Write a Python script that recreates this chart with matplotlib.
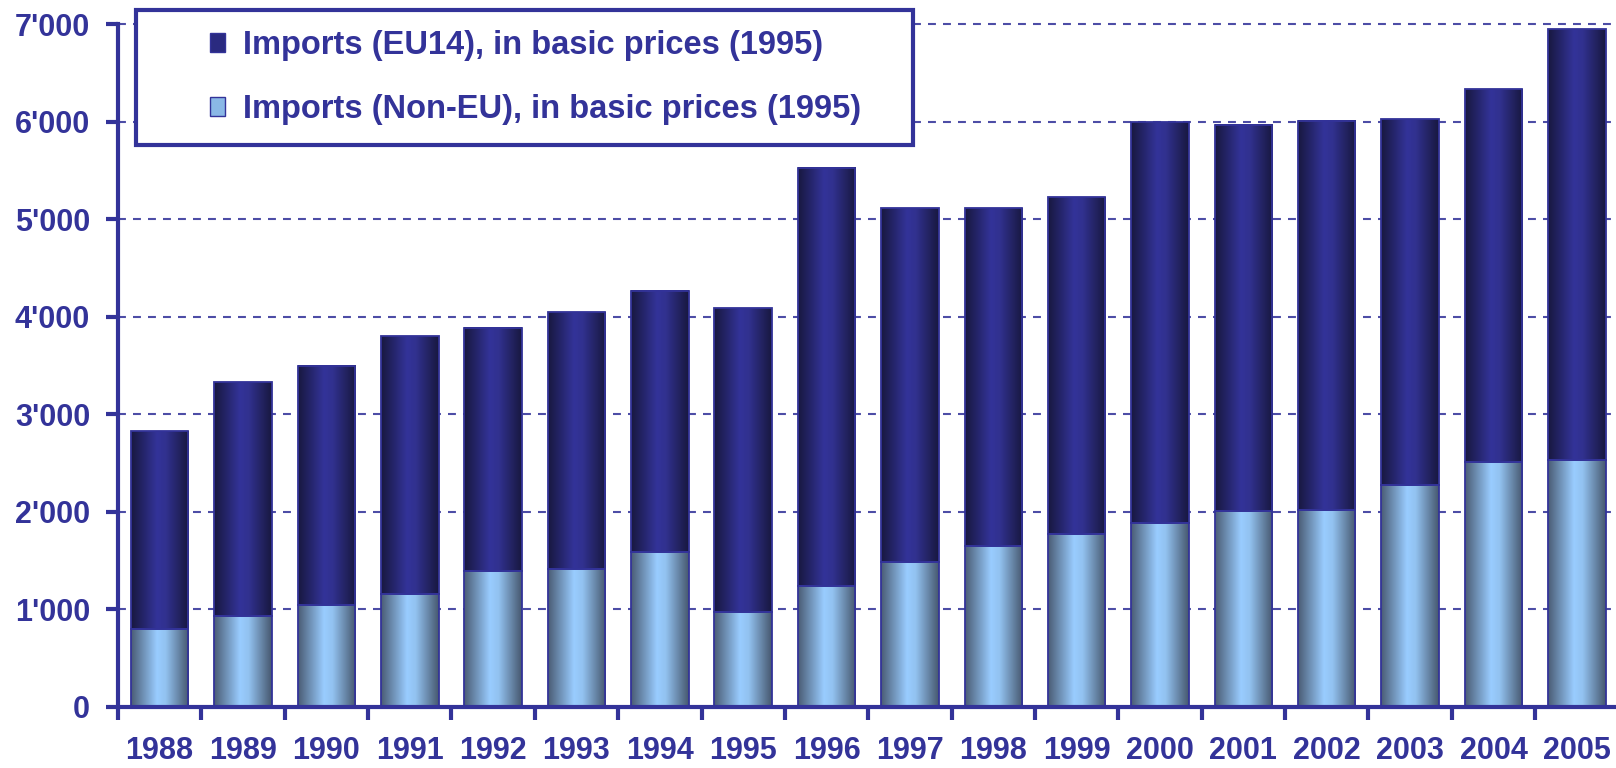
import numpy as np
import matplotlib
matplotlib.use('Agg')
import matplotlib.pyplot as plt
from matplotlib.colors import LinearSegmentedColormap
from matplotlib.patches import Rectangle
from matplotlib.legend_handler import HandlerPatch
from matplotlib.ticker import FuncFormatter, FixedLocator


years = ['1988', '1989', '1990', '1991', '1992', '1993', '1994', '1995', '1996',
         '1997', '1998', '1999', '2000', '2001', '2002', '2003', '2004', '2005']
imports_noneu = [802, 929, 1045, 1161, 1394, 1415, 1584, 971, 1235,
                 1489, 1647, 1774, 1890, 2006, 2017, 2280, 2513, 2534]
imports_eu14 = [2028, 2397, 2450, 2640, 2491, 2629, 2681, 3115, 4287,
                3621, 3463, 3452, 4107, 3959, 3990, 3749, 3822, 4413]
label_eu14 = 'Imports (EU14), in basic prices (1995)'
label_noneu = 'Imports (Non-EU), in basic prices (1995)'

navy = '#333399'
plt.rcParams['font.family'] = ['Liberation Sans', 'DejaVu Sans']
plt.rcParams['font.weight'] = 'bold'

cmap_dark = LinearSegmentedColormap.from_list(
    'dark', [(0, '#18183f'), (0.45, '#333399'), (0.6, '#31318f'), (1, '#18183f')])
cmap_light = LinearSegmentedColormap.from_list(
    'light', [(0, '#4a5c74'), (0.45, '#99ccff'), (0.6, '#92c2f0'), (1, '#46576e')])
grad = np.linspace(0, 1, 256).reshape(1, -1)


def shade_bars(ax, bars, cmap):
    for p in bars.patches:
        x, y = p.get_x(), p.get_y()
        w, h = p.get_width(), p.get_height()
        ax.imshow(grad, cmap=cmap, extent=[x, x + w, y, y + h], aspect='auto',
                  interpolation='bilinear', zorder=2)


def small_box(legend, orig_handle, xdescent, ydescent, width, height, fontsize):
    bw, bh = 10.8, 13.5
    return Rectangle((width - bw - xdescent, -ydescent + (height - bh) / 2), bw, bh)


fig = plt.figure(figsize=(16.16, 7.68), dpi=100)
ax = fig.add_axes([118 / 1616, 1 - 707 / 768, 1 - 118 / 1616, (707 - 24) / 768])

pos = np.arange(len(years))
b1 = ax.bar(pos, imports_noneu, width=0.69, facecolor='none', edgecolor=navy,
            linewidth=1.3, zorder=3)
b2 = ax.bar(pos, imports_eu14, width=0.69, bottom=imports_noneu, facecolor='none',
            edgecolor=navy, linewidth=1.3, zorder=3)
shade_bars(ax, b1, cmap_light)
shade_bars(ax, b2, cmap_dark)

ax.set_xlim(-0.5, 17.47)
ax.set_ylim(0, 7000)

ax.yaxis.set_major_locator(FixedLocator(np.arange(0, 7001, 1000)))
ax.yaxis.set_major_formatter(FuncFormatter(lambda v, _: f'{int(v):,}'.replace(',', "'")))
ax.grid(axis='y', color='#4d4da6', linestyle=(0, (3.8, 3.4)), linewidth=1.5, zorder=1)
for gl in ax.get_ygridlines():
    gl.set_clip_on(False)
ax.set_axisbelow(True)

ax.set_xticks(pos - 0.5)
ax.set_xticklabels([])
ax.set_xticks(pos, minor=True)
ax.set_xticklabels(years, minor=True)
ax.tick_params(axis='x', which='major', direction='out', length=9, width=3, color=navy)
ax.tick_params(axis='x', which='minor', length=0, pad=21, labelsize=22, labelcolor=navy)
ax.tick_params(axis='y', direction='out', length=9, width=3, color=navy, pad=11,
               labelsize=22, labelcolor=navy)

for s in ['top', 'right']:
    ax.spines[s].set_visible(False)
for s in ['left', 'bottom']:
    ax.spines[s].set_color(navy)
    ax.spines[s].set_linewidth(3)
    ax.spines[s].set_zorder(4)

h1 = Rectangle((0, 0), 1, 1, facecolor='#2a2a80', edgecolor=navy, linewidth=1)
h2 = Rectangle((0, 0), 1, 1, facecolor='#8ab8e6', edgecolor=navy, linewidth=1)
leg = fig.legend([h1, h2], [label_eu14, label_noneu], loc='upper left',
                 bbox_to_anchor=(136 / 1616, 1 - 10 / 768, (913 - 136) / 1616, 0),
                 mode='expand', borderaxespad=0, borderpad=0.62, labelspacing=1.0,
                 handlelength=2.11, handletextpad=0.55, fontsize=23.5, labelcolor=navy,
                 fancybox=False, framealpha=1, facecolor='white', edgecolor=navy,
                 handler_map={Rectangle: HandlerPatch(patch_func=small_box)})
leg.get_frame().set_linewidth(3)

fig.savefig('out.png', dpi=100)
